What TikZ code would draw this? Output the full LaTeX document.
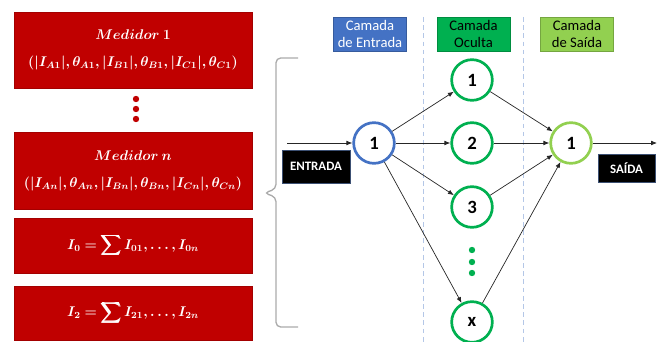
\documentclass[tikz,border=0pt]{standalone}
\usepackage{amsmath}
\usepackage[no-math]{fontspec}
\setmainfont{Carlito}
\usepackage{bm}
\usepackage{tikz}
\usetikzlibrary{arrows.meta, positioning, calc}

\definecolor{medred}{RGB}{192,0,0}
\definecolor{inblue}{RGB}{68,114,196}
\definecolor{hidgreen}{RGB}{0,176,80}
\definecolor{outgreen}{RGB}{146,208,80}
\definecolor{bracegray}{RGB}{170,170,170}
\definecolor{sepblue}{RGB}{180,199,231}
\definecolor{ioedge}{RGB}{60,80,115}

\tikzset{
  medbox/.style={draw=medred!85!black, fill=medred, text=white, align=center, inner sep=0pt,
    minimum width=7.14cm, font=\fontsize{12}{23}\selectfont},
  neuron/.style={circle, draw=#1, line width=2.3pt, fill=white, inner sep=0pt,
    minimum size=1.22cm, font=\fontsize{16}{16}\selectfont\bfseries},
  layerlbl/.style 2 args={fill=#1, draw=#1!80!black, text=#2, align=center, inner sep=1pt,
    minimum width=2.2cm, minimum height=1.02cm, font=\fontsize{12.5}{14.5}\selectfont\color{#2}},
  iobox/.style={fill=black, draw=ioedge, text=white, inner sep=0pt,
    font=\fontsize{11}{12}\selectfont\bfseries},
  conn/.style={->, line width=0.6pt, draw=black!85},
}

\begin{document}
\begin{tikzpicture}[x=0.03cm, y=-0.03cm, >={Latex[length=5pt,width=4pt]}]
    \useasboundingbox (0,0) rectangle (663,342);

    % medidores
    \node[medbox, minimum height=2.28cm] (medA) at (133,50)
    {$\bm{Medidor~1}$\\ $\bm{(|I_{A1}|, \theta_{A1}, |I_{B1}|, \theta_{B1}, |I_{C1}|, \theta_{C1})}$};
    \node[medbox, minimum height=2.31cm] (medN) at (133,170.5)
    {$\bm{Medidor~n}$\\ $\bm{(|I_{An}|, \theta_{An}, |I_{Bn}|, \theta_{Bn}, |I_{Cn}|, \theta_{Cn})}$};
    \node[medbox, minimum height=1.65cm] (sumZ) at (133,245.5)
    {$\displaystyle\bm{I_0 =} \bm{\sum} \bm{I_{01}, \ldots, I_{0n}}$};
    \node[medbox, minimum height=1.62cm] (sumN) at (133,313)
    {$\displaystyle\bm{I_2 =} \bm{\sum} \bm{I_{21}, \ldots, I_{2n}}$};
    \foreach \y in {99,109,119}
        \fill[medred] (136,\y) circle (3.2);

    % chave
    \coordinate (bt) at (298,58);
    \coordinate (bb) at (298,327);
    \coordinate (btip) at (264,193);
    \draw[bracegray, line width=1.1pt, rounded corners=4pt]
        (bt) -- (276,58) -- (276,189) -- (btip) -- (276,197) -- (276,327) -- (bb);

    % separadores
    \draw[sepblue, dashed, dash pattern=on 4pt off 3pt, line width=0.7pt] (423,17) -- (423,342);
    \draw[sepblue, dashed, dash pattern=on 4pt off 3pt, line width=0.7pt] (523,17) -- (523,342);

    % camadas
    \node[layerlbl={inblue}{white}] (lblIn) at (370,34) {Camada\\de Entrada};
    \node[layerlbl={hidgreen}{black}] (lblHid) at (473.5,34) {Camada\\Oculta};
    \node[layerlbl={outgreen}{black}] (lblOut) at (577,34) {Camada\\de Saída};

    \node[neuron=inblue] (in) at (374,143) {1};
    \node[neuron=hidgreen] (h1) at (472,80) {1};
    \node[neuron=hidgreen] (h2) at (472,143) {2};
    \node[neuron=hidgreen] (h3) at (472,207) {3};
    \node[neuron=hidgreen] (hx) at (472,322) {x};
    \node[neuron=outgreen] (out) at (571,143) {1};
    \foreach \y in {250,262,273}
        \fill[hidgreen] (472,\y) circle (3.2);

    \node[iobox, minimum width=2.04cm, minimum height=0.99cm] (entrada) at (316,166.5) {ENTRADA};
    \node[iobox, minimum width=1.71cm, minimum height=0.84cm] (saida) at (626.5,168) {SAÍDA};

    \coordinate (src) at (287,143);
    \coordinate (dst) at (657,143);
    \draw[conn] (src) -- (in);
    \draw[conn] (out) -- (dst);
    \foreach \h in {h1,h2,h3,hx} {
        \draw[conn] (in) -- (\h);
        \draw[conn] (\h) -- (out);
    }
\end{tikzpicture}
\end{document}
